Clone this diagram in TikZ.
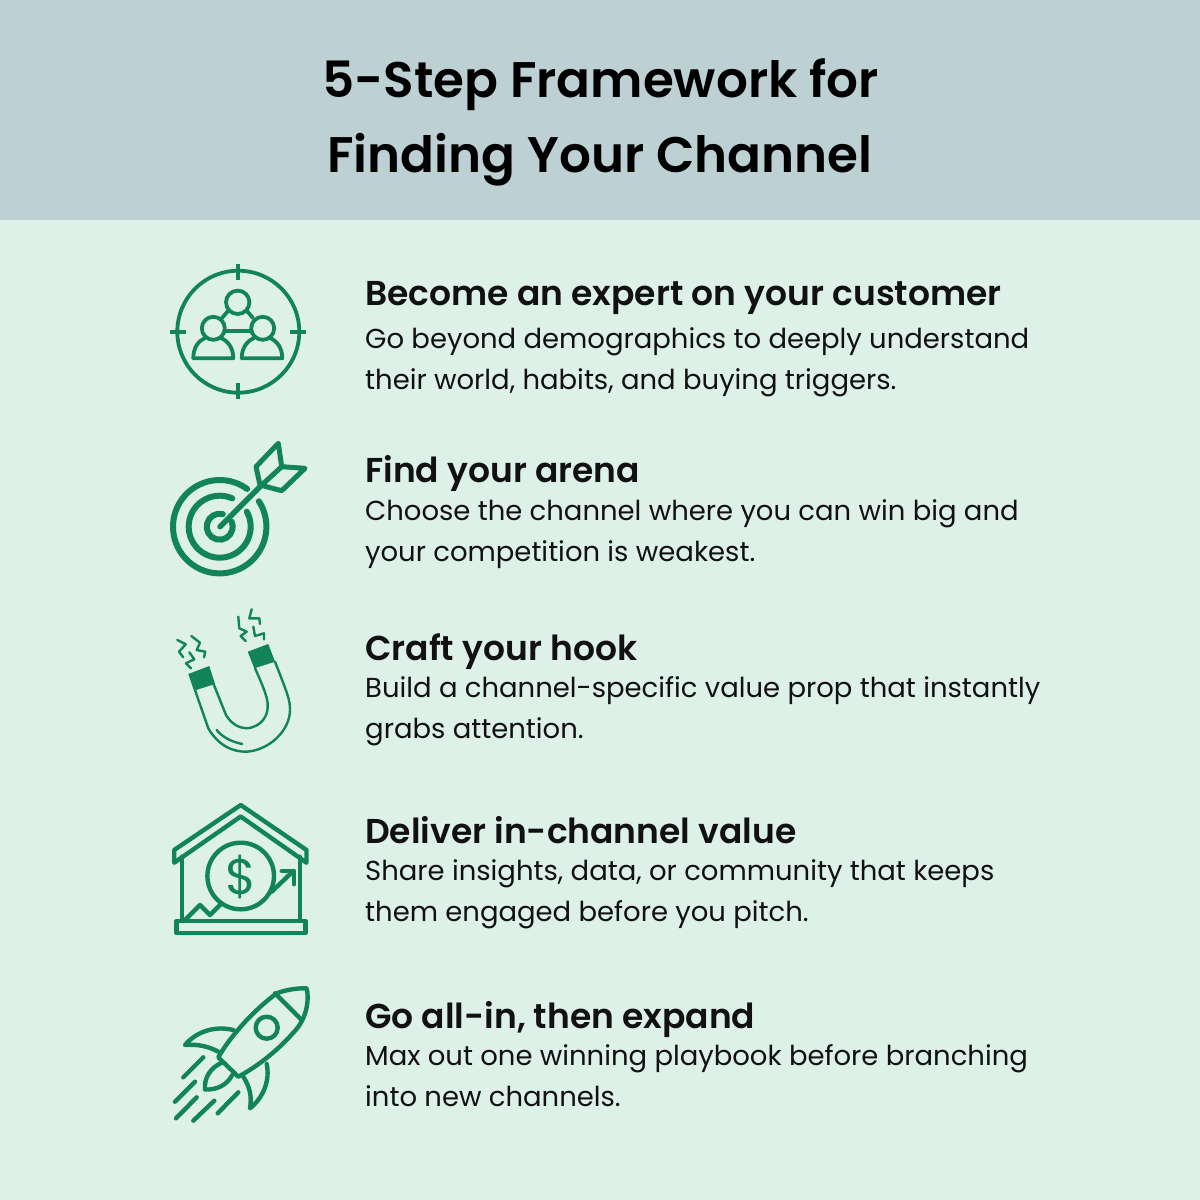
\documentclass[tikz,border=0pt]{standalone}
\usepackage{fontspec}
\setmainfont{Poppins}[BoldFont={Poppins SemiBold}]
\usepackage{tikz}
\definecolor{headerbg}{HTML}{BDD1D4}
\definecolor{pagebg}{HTML}{DEF1E9}
\definecolor{icongreen}{HTML}{12845A}
\definecolor{inkblack}{HTML}{111111}
\tikzset{
  titletext/.style={anchor=base,inner sep=0pt,text=black,font=\fontsize{50}{50}\selectfont\bfseries},
  headtext/.style={anchor=base west,inner sep=0pt,text=inkblack,font=\fontsize{34.5}{34.5}\selectfont\bfseries},
  bodytext/.style={anchor=base west,inner sep=0pt,text=inkblack,font=\fontsize{27.46}{27.46}\selectfont},
  iconline/.style={draw=icongreen,line width=3.8pt,line join=round,line cap=round},
  heavyline/.style={draw=icongreen,line width=4.4pt,line join=round,line cap=round},
  thinline/.style={draw=icongreen,line width=2.4pt,line join=round,line cap=round},
  ringline/.style={draw=icongreen,line width=6pt,line cap=round},
}
\begin{document}
\begin{tikzpicture}[x=1pt,y=-1pt]
\useasboundingbox (0,0) rectangle (1200,1200);
\fill[pagebg] (0,0) rectangle (1200,1200);
\fill[headerbg] (0,0) rectangle (1200,220);
\node[titletext] (title1) at (600.5,97) {5-Step Framework for};
\node[titletext] (title2) at (600,172) {Finding Your Channel};
\node[headtext] (head1) at (365,305) {Become an expert on your customer};
\node[bodytext] (body1a) at (365,348) {Go beyond demographics to deeply understand};
\node[bodytext] (body1b) at (365,389) {their world, habits, and buying triggers.};
\node[headtext] (head2) at (365,482) {Find your arena};
\node[bodytext] (body2a) at (365,520) {Choose the channel where you can win big and};
\node[bodytext] (body2b) at (365,561) {your competition is weakest.};
\node[headtext] (head3) at (365,660) {Craft your hook};
\node[bodytext] (body3a) at (365,697) {Build a channel-specific value prop that instantly};
\node[bodytext] (body3b) at (365,738) {grabs attention.};
\node[headtext] (head4) at (365,843) {Deliver in-channel value};
\node[bodytext] (body4a) at (365,880) {Share insights, data, or community that keeps};
\node[bodytext] (body4b) at (365,921) {them engaged before you pitch.};
\node[headtext] (head5) at (365,1028) {Go all-in, then expand};
\node[bodytext] (body5a) at (365,1065) {Max out one winning playbook before branching};
\node[bodytext] (body5b) at (365,1106) {into new channels.};
% people in crosshair
\draw[iconline] (238.3,331.7) circle (61);
\draw[iconline,line cap=butt] (238.3,264) -- (238.3,280);
\draw[iconline,line cap=butt] (238.3,383) -- (238.3,399);
\draw[iconline,line cap=butt] (170,331.7) -- (186,331.7);
\draw[iconline,line cap=butt] (290,331.7) -- (306,331.7);
\draw[iconline] (237.7,302.3) circle (11.7);
\draw[iconline] (213.3,328.3) circle (11.5);
\draw[iconline] (262.7,328.3) circle (11.5);
\draw[iconline] (193.3,358.3) -- (233.3,358.3) .. controls (233.3,348) and (228,341) .. (221,338);
\draw[iconline] (193.3,358.3) .. controls (193.3,348) and (198,341) .. (205,338);
\draw[iconline] (241.7,358.3) -- (282.3,358.3) .. controls (282.3,348) and (277,341) .. (270,338);
\draw[iconline] (241.7,358.3) .. controls (241.7,348) and (247,341) .. (254,338);
\draw[iconline] (228,311) -- (222,318);
\draw[iconline] (247,311) -- (253,318);
\draw[iconline] (226,331) -- (250,331);
% target and arrow
\draw[ringline] (219.7,526.7) ++(-54:46.7) arc[start angle=-54,end angle=-393,radius=46.7];
\draw[ringline] (219.7,526.7) ++(-66:31) arc[start angle=-66,end angle=-389,radius=31];
\draw[ringline] (219.7,526.7) ++(-76:13) arc[start angle=-76,end angle=-383,radius=13];
\draw[icongreen,line width=5.4pt,line cap=round] (220,526.7) -- (261.7,485);
\draw[icongreen,line width=5pt,line join=round] (278.3,443.3) -- (281.7,466.7) -- (305,468.3) -- (281.7,490.7) -- (260,485) -- (256,466.7) -- cycle;
\draw[icongreen,line width=5pt,line cap=round] (281.7,466.7) -- (261.7,485);
% magnet
\fill[icongreen] (188.3,674) -- (209.3,666) -- (215,684) -- (194,690.7) -- cycle;
\fill[icongreen] (247.7,651.7) -- (268.3,644) -- (275,661.7) -- (254.3,668.3) -- cycle;
\draw[thinline] (195,690) -- (208.3,728.3) .. controls (218,745) and (232,752) .. (246.7,751.7) .. controls (270,750) and (290,730) .. (290,710) .. controls (290,700) and (288,695) .. (275,661.7);
\draw[thinline] (213.3,683.3) -- (226,715) .. controls (232,725) and (240,728) .. (246.7,728.3) .. controls (262,727) and (268,715) .. (267.7,706) .. controls (268,700) and (265,690) .. (255,668.3);
\draw[thinline] (216.7,730) .. controls (222,737) and (232,742) .. (242.3,744);
\draw[thinline] (177.3,640) -- (185.7,644.3) -- (179,651.7) -- (183.3,657.3);
\draw[thinline] (191.3,636) -- (200,642.7) -- (196.7,650) -- (205.3,651.7) -- (204,657.3);
\draw[thinline] (189.3,652.3) -- (194.3,659.3) -- (186,663.3) -- (191,668.3);
\draw[thinline] (238.3,616.7) -- (239.3,628.3) -- (246.7,631.7) -- (240.7,636) -- (245.7,641);
\draw[thinline] (251.7,609.3) -- (249.3,618.3) -- (259.3,618.3) -- (260,624);
\draw[thinline] (253.3,626.7) -- (255,636) -- (264,633.3) -- (264,639.3);
% house with coin
\draw[heavyline] (240.7,805) -- (306.5,850) -- (306.5,862.7) -- (240.7,816.5) -- (174.2,862.7) -- (174.2,850) -- cycle;
\draw[heavyline] (181.7,856.7) -- (181.7,920);
\draw[heavyline] (300,856.7) -- (300,920);
\draw[heavyline] (176.5,921) rectangle (305.5,933);
\draw[heavyline] (240.7,876) circle (33.3);
\node[inner sep=0pt,text=icongreen,font=\fontsize{50}{50}\selectfont] (dollar) at (240.7,877) {\$};
\draw[heavyline] (185,920) -- (200,905) -- (210,915) -- (221.7,903.3);
\draw[heavyline] (271.7,891.7) -- (293.3,871);
\draw[heavyline] (281.7,871) -- (294,871) -- (294,884.3);
% rocket
\draw[heavyline] (218.3,1057.3) .. controls (228,1040) and (250,1013) .. (276.7,993.3) .. controls (285,990) and (297,988) .. (306.7,988.3) .. controls (309,998) and (308,1018) .. (293,1033) .. controls (280,1048) and (260,1065) .. (238.3,1076.7) -- cycle;
\draw[heavyline] (275,993.3) -- (301.7,1020);
\draw[heavyline] (266.7,1027.7) circle (11);
\draw[heavyline] (233.3,1030) .. controls (213,1025) and (195,1033) .. (185,1045) .. controls (197,1044) and (208,1046) .. (218.3,1051.7);
\draw[heavyline] (266.7,1064) .. controls (270,1080) and (264,1097) .. (250,1108.3) .. controls (252,1097) and (250,1087) .. (243.3,1076.7);
\draw[heavyline] (221.7,1062.7) .. controls (210,1068) and (204,1078) .. (205,1089.5) .. controls (217,1090) and (227,1085) .. (232.3,1075);
\draw[heavyline] (203.3,1057.3) -- (183.3,1077.3);
\draw[heavyline] (195,1081.7) -- (175,1101.7);
\draw[heavyline] (196.7,1097.3) -- (176,1118.3);
\draw[heavyline] (214.3,1100.7) -- (193.3,1120.7);
\draw[heavyline] (238.3,1092.3) -- (217.7,1113.3);
\end{tikzpicture}
\end{document}
